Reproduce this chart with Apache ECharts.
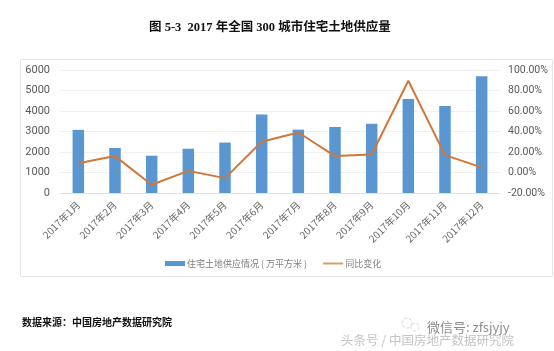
<!DOCTYPE html>
<html>
<head>
<meta charset="utf-8">
<style>
  html, body { margin: 0; padding: 0; background: #fff; }
  #chart { width: 554px; height: 351px; }
</style>
<script src="https://cdn.jsdelivr.net/npm/echarts@6/dist/echarts.min.js"></script>
</head>
<body>
<div id="chart"></div>
<script>
  var months = ['2017年1月', '2017年2月', '2017年3月', '2017年4月', '2017年5月', '2017年6月',
    '2017年7月', '2017年8月', '2017年9月', '2017年10月', '2017年11月', '2017年12月'];
  var supply = [3080, 2200, 1820, 2160, 2460, 3830, 3090, 3220, 3380, 4590, 4250, 5700];
  var yoy = [9, 16, -12, 1.6, -5.5, 30, 39, 16, 17.5, 89.5, 17, 5];
  var supplyName = '住宅土地供应情况 ( 万平方米 )';
  var yoyName = '同比变化';
  var cjk = '"Noto Sans CJK SC", sans-serif';

  var option = {
    animation: false,
    backgroundColor: '#fff',
    title: [
      {
        text: '图 5-3  2017 年全国 300 城市住宅土地供应量',
        left: 144, top: 17,
        textStyle: {fontFamily: '"Liberation Serif", "Noto Sans CJK SC", serif', fontSize: 12.5, fontWeight: 'bold', color: '#111'}
      },
      {
        text: '数据来源：中国房地产数据研究院',
        left: 17, top: 312,
        textStyle: {fontFamily: cjk, fontSize: 10, fontWeight: 'bold', color: '#111'}
      },
      {
        text: '微信号: zfsjyjy',
        left: 422, top: 316,
        textStyle: {fontFamily: cjk, fontSize: 13, fontWeight: 'normal', color: '#8c8c8c'}
      },
      {
        text: '头条号 / 中国房地产数据研究院',
        left: 336, top: 329,
        textStyle: {fontFamily: cjk, fontSize: 12.5, fontWeight: 'normal', color: '#c4c4c4'}
      }
    ],
    graphic: [
      {
        type: 'rect',
        z: -1,
        shape: {x: 20.5, y: 59.5, width: 532, height: 217},
        style: {fill: '#fff', stroke: '#e6e6e6', lineWidth: 1}
      },
      // faint wechat bubbles next to the watermark
      {
        type: 'circle',
        shape: {cx: 407, cy: 323, r: 5},
        style: {fill: 'none', stroke: '#cfcfcf', lineWidth: 1, lineDash: [3, 2]}
      },
      {
        type: 'circle',
        shape: {cx: 415, cy: 327, r: 4},
        style: {fill: 'none', stroke: '#d8d8d8', lineWidth: 1, lineDash: [3, 2]}
      }
    ],
    legend: {
      left: 160, top: 254,
      itemGap: 16,
      itemHeight: 5,
      itemWidth: 20,
      textStyle: {fontFamily: cjk, fontSize: 9, color: '#7f7f7f', padding: [0, 0, 0, -3]},
      data: [
        {name: supplyName, icon: 'rect'},
        {name: yoyName, icon: 'path://M0 0H20V2H0Z'}
      ]
    },
    grid: {left: 60, right: 54, top: 70, height: 123},
    xAxis: {
      type: 'category',
      data: months,
      axisTick: {show: false},
      axisLine: {lineStyle: {color: '#dfe3e8'}},
      axisLabel: {
        rotate: 45, interval: 0, margin: 10,
        fontFamily: cjk, fontSize: 10, color: '#666'
      }
    },
    yAxis: [
      {
        type: 'value', min: 0, max: 6000, interval: 1000,
        axisLine: {show: false},
        axisTick: {show: false},
        splitLine: {lineStyle: {color: '#f1f1f1'}},
        axisLabel: {
          fontFamily: 'Roboto, sans-serif', fontSize: 11, color: '#595959', margin: 10,
          formatter: function (v) { return String(v); }
        }
      },
      {
        type: 'value', min: -20, max: 100, interval: 20,
        axisLine: {show: false},
        axisTick: {show: false},
        splitLine: {show: false},
        axisLabel: {
          fontFamily: 'Roboto, sans-serif', fontSize: 10.5, color: '#595959', margin: 8,
          formatter: function (v) { return v.toFixed(2) + '%'; }
        }
      }
    ],
    series: [
      {
        name: supplyName,
        type: 'bar',
        data: supply,
        barWidth: 11.5,
        itemStyle: {color: '#5a96d0'}
      },
      {
        name: yoyName,
        type: 'line',
        yAxisIndex: 1,
        data: yoy,
        symbol: 'none',
        lineStyle: {color: '#d0773a', width: 2},
        itemStyle: {color: '#d9a066'}
      }
    ]
  };
  echarts.init(document.getElementById('chart')).setOption(option);
</script>
</body>
</html>
